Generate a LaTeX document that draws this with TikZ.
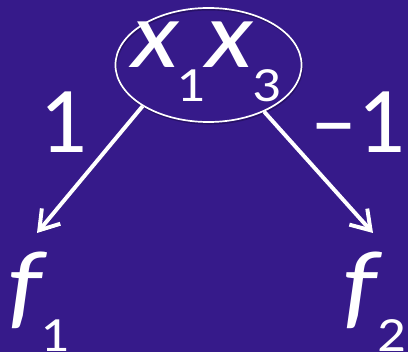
\documentclass[tikz,border=0pt]{standalone}
\usepackage{fontspec}
\setmainfont{Carlito}
\usetikzlibrary{arrows.meta, shapes.geometric, positioning}
\definecolor{DeepPurple}{RGB}{54,26,138}
\definecolor{ShadePurple}{RGB}{30,12,80}
\newcommand{\bigsz}{\fontsize{68}{68}\selectfont}
\newcommand{\subsz}{\fontsize{35}{35}\selectfont}
\newcommand{\lblsz}{\fontsize{67}{67}\selectfont}
\newcommand{\wide}[1]{\scalebox{1.15}[1]{#1}}
\newcommand{\lowsub}[1]{\raisebox{-23.5pt}{\subsz\wide{#1}}}

\begin{document}
\begin{tikzpicture}[x=0.025cm, y=-0.025cm,
    word/.style={text=white, inner sep=0pt, anchor=base west, font=\bigsz},
    weight/.style={text=white, inner sep=0pt, anchor=base, font=\lblsz},
    shade/.style={preaction={draw=ShadePurple, opacity=0.6,
        transform canvas={shift={(0.6pt,-1.2pt)}}}},
    edge/.style={draw=white, line width=2.8pt, shade,
        -{Straight Barb[length=4.6mm, width=6mm]}}]
  \fill[DeepPurple] (0,0) rectangle (408,352);
  \useasboundingbox (0,0) rectangle (408,352);
  % the product term
  \node[ellipse, draw=white, line width=1.2pt, shade, inner sep=0pt,
        minimum width=4.65cm, minimum height=2.85cm] (top) at (208.5,65) {};
  \node[word] (term) at (131,68)
        {\makebox[32pt][l]{\itshape\wide{x}}\makebox[21pt][l]{\lowsub{1}}%
         \makebox[33pt][l]{\itshape\wide{x}}\lowsub{3}};
  % outputs
  \node[word] (f1) at (8,318) {\makebox[23pt][l]{\itshape\wide{f}}\lowsub{1}};
  \node[word] (f2) at (343,318) {\makebox[24pt][l]{\itshape\wide{f}}\lowsub{2}};
  \coordinate (tip1) at (37,233);
  \coordinate (tip2) at (373,233);
  % weighted edges
  \draw[edge] (top.212.5) -- (tip1);
  \draw[edge] (top.-40.4) -- (tip2);
  \node[weight] (w1) at (63.5,153) {1};
  \node[weight] (w2) at (358,153) {\textendash 1};
\end{tikzpicture}
\end{document}
